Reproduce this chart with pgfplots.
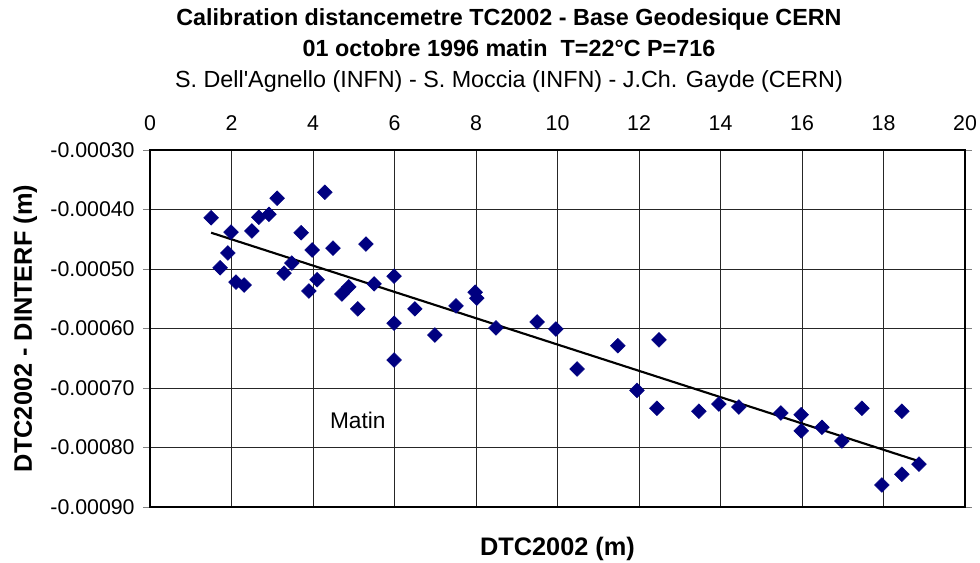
\documentclass[border=0pt]{standalone}
\usepackage{pgfplots}
\pgfplotsset{compat=1.18}
\usepackage{fontspec}
\setmainfont{Liberation Sans}
\definecolor{navy}{RGB}{0,0,128}

\begin{document}
\begin{tikzpicture}[x=0.75pt,y=0.75pt]
% page = 980x562 px, plot area lower left at (150,507) px
\path[use as bounding box] (-150,-55) rectangle (830,507);
\node[font=\fontsize{17.5}{20}\selectfont\bfseries, anchor=base] at (359,482) {Calibration distancemetre TC2002 - Base Geodesique CERN};
\node[font=\fontsize{17.5}{20}\selectfont\bfseries, anchor=base] at (359,451) {01 octobre 1996 matin\ \ T=22°C P=716};
\node[font=\fontsize{17.5}{20}\selectfont, anchor=base] at (359,420) {S. Dell\textquotesingle Agnello (INFN) - S. Moccia (INFN) - J.Ch. Gayde (CERN)};
\begin{axis}[
    scale only axis,
    width=611.25pt, height=267.75pt,
    xmin=0, xmax=20,
    ymin=-0.0009, ymax=-0.0003,
    xtick={0,2,...,20},
    ytick={-0.0009,-0.0008,-0.0007,-0.0006,-0.0005,-0.0004,-0.0003},
    yticklabels={-0.00090,-0.00080,-0.00070,-0.00060,-0.00050,-0.00040,-0.00030},
    scaled y ticks=false,
    axis x line*=top,
    xticklabel pos=top,
    tick align=outside,
    major tick length=5pt,
    xtick style={draw=none},
    grid=major,
    grid style={black!85, line width=0.6pt},
    axis line style={black, line width=0.8pt},
    ticklabel style={font=\fontsize{16}{18}\selectfont},
    xticklabel style={yshift=6pt},
    yticklabel style={xshift=-3pt},
    /pgf/number format/assume math mode=true,
    xlabel={\bfseries DTC2002 (m)},
    ylabel={\bfseries DTC2002 - DINTERF (m)},
    label style={font=\fontsize{19}{22}\selectfont},
    xlabel style={at={(axis description cs:0.5,0)}, anchor=base, yshift=-36pt},
    ylabel style={at={(axis description cs:-0.153,0.5)}, anchor=center},
    clip=false,
]
\draw[black, line width=0.8pt] (rel axis cs:0,0) rectangle (rel axis cs:1,1);
\addplot[only marks, mark=square*, mark size=3.9pt, color=navy,
    mark options={fill=navy, draw=navy, rotate=45}]
coordinates {
(1.50,-0.000414) (1.99,-0.000438) (1.91,-0.000473) (1.72,-0.000498)
(2.11,-0.000522) (2.31,-0.000527) (2.50,-0.000436) (2.67,-0.000413)
(2.92,-0.000408) (3.12,-0.000381) (3.71,-0.000439) (3.98,-0.000468)
(3.29,-0.000507) (3.48,-0.000490) (4.29,-0.000371) (4.10,-0.000518)
(3.90,-0.000537) (4.49,-0.000465) (4.71,-0.000542) (4.88,-0.000530)
(5.10,-0.000567) (5.30,-0.000458) (5.50,-0.000525) (5.99,-0.000512)
(5.99,-0.000591) (6.50,-0.000567) (6.99,-0.000611) (5.99,-0.000653)
(7.51,-0.000562) (7.98,-0.000539) (8.02,-0.000549) (8.49,-0.000599)
(9.50,-0.000589) (9.96,-0.000601) (10.48,-0.000668) (11.48,-0.000629)
(11.95,-0.000704) (12.49,-0.000619) (12.44,-0.000734) (13.47,-0.000739)
(13.96,-0.000727) (14.45,-0.000732) (15.48,-0.000742) (15.98,-0.000745)
(15.98,-0.000772) (16.49,-0.000766) (16.98,-0.000789) (17.47,-0.000734)
(17.96,-0.000863) (18.45,-0.000739) (18.45,-0.000845) (18.87,-0.000828)
};
\addplot[black, line width=1.6pt] coordinates {(1.5,-0.000439) (18.87,-0.000823)};
\node[font=\fontsize{17}{20}\selectfont] at (axis cs:5.1,-0.000755) {Matin};
\end{axis}
\end{tikzpicture}
\end{document}
